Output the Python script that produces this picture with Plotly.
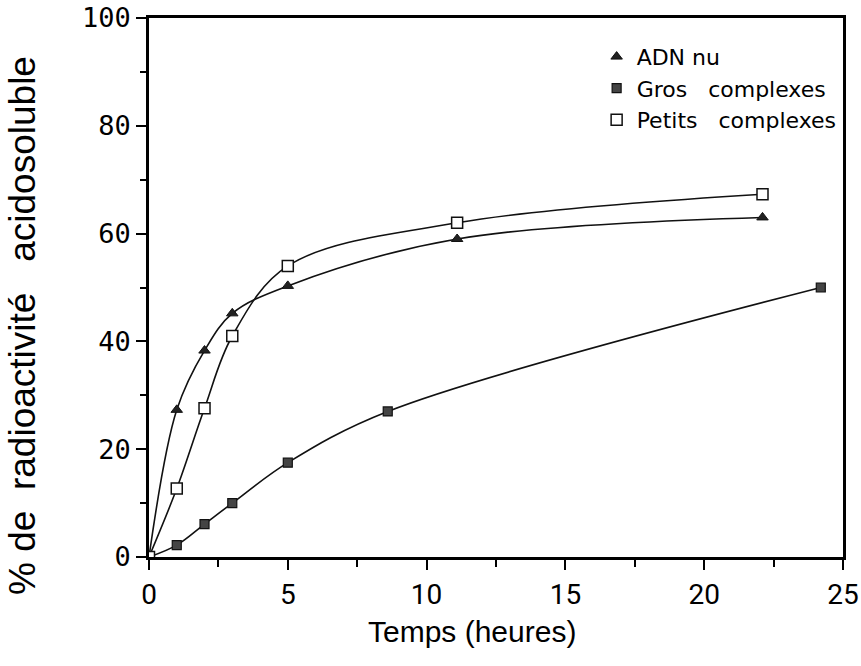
import plotly.graph_objects as go

# Data
adn_x = [0, 1, 2, 3, 5, 11.1, 22.1]
adn_y = [0, 27.3, 38.3, 45.2, 50.3, 59.0, 63.0]

gros_x = [0, 1, 2, 3, 5, 8.6, 24.2]
gros_y = [0, 2.2, 6.1, 10.0, 17.5, 27.0, 50.0]

petits_x = [0, 1, 2, 3, 5, 11.1, 22.1]
petits_y = [0, 12.7, 27.6, 41.0, 54.0, 62.0, 67.3]

series_names = ["ADN nu", "Gros   complexes", "Petits   complexes"]

x_ticks = [0, 5, 10, 15, 20, 25]
y_ticks = [0, 20, 40, 60, 80, 100]

x_title = "Temps (heures)"
y_title = "% de  radioactivité   acidosoluble"

series = [
    (adn_x, adn_y, series_names[0],
     dict(symbol="triangle-up", size=10, color="#222", line=dict(color="#111", width=1))),
    (gros_x, gros_y, series_names[1],
     dict(symbol="square", size=9, color="#444", line=dict(color="#111", width=1.2))),
    (petits_x, petits_y, series_names[2],
     dict(symbol="square", size=11, color="white", line=dict(color="#111", width=1.5))),
]

fig = go.Figure()

line_style = dict(color="#111", width=1.6, shape="spline", smoothing=1.0)

for xs, ys, name, mk in series:
    fig.add_trace(go.Scatter(x=xs, y=ys, mode="lines", line=line_style,
                             showlegend=False, hoverinfo="skip"))
for xs, ys, name, mk in series:
    fig.add_trace(go.Scatter(x=xs, y=ys, name=name, mode="markers", marker=mk))

fig.update_layout(
    width=861, height=666,
    margin=dict(l=149, r=18, t=18, b=109, autoexpand=False),
    paper_bgcolor="white", plot_bgcolor="white",
    showlegend=True,
    legend=dict(
        x=0.645, y=0.967, xanchor="left", yanchor="top",
        bgcolor="rgba(0,0,0,0)", borderwidth=0,
        font=dict(family="DejaVu Sans, Verdana, sans-serif", size=22, color="black"),
        itemwidth=30, tracegroupgap=0, itemsizing="trace",
    ),
    xaxis=dict(
        range=[0, 25], tickvals=x_ticks, ticktext=[str(v) for v in x_ticks],
        showgrid=False, zeroline=False, automargin=False,
        showline=True, linecolor="black", linewidth=2.8, mirror=True,
        ticks="outside", ticklen=10, tickwidth=2, tickcolor="black",
        minor=dict(dtick=2.5, ticks="outside", ticklen=7, tickwidth=2, tickcolor="black"),
        tickfont=dict(family="Liberation Sans Narrow, Roboto, Arial, sans-serif", size=28, color="black"),
    ),
    yaxis=dict(
        range=[0, 100], tickvals=y_ticks, ticktext=[str(v) for v in y_ticks],
        showgrid=False, zeroline=False, automargin=False,
        showline=True, linecolor="black", linewidth=2.8, mirror=True,
        ticks="outside", ticklen=10, tickwidth=2, tickcolor="black",
        minor=dict(dtick=10, ticks="outside", ticklen=6, tickwidth=2, tickcolor="black"),
        tickfont=dict(family="DejaVu Sans Mono, Liberation Mono, monospace", size=27, color="black"),
    ),
    annotations=[
        dict(text=x_title, xref="paper", yref="paper", x=0.465, y=-0.139,
             xanchor="center", yanchor="middle", showarrow=False,
             font=dict(family="Liberation Sans, Arial, sans-serif", size=30, color="black")),
        dict(text=y_title, xref="paper", yref="paper", x=-0.182, y=0.43,
             xanchor="center", yanchor="middle", showarrow=False, textangle=-90,
             font=dict(family="Liberation Sans, Arial, sans-serif", size=37, color="black")),
    ],
)

fig.write_html("out.html")
